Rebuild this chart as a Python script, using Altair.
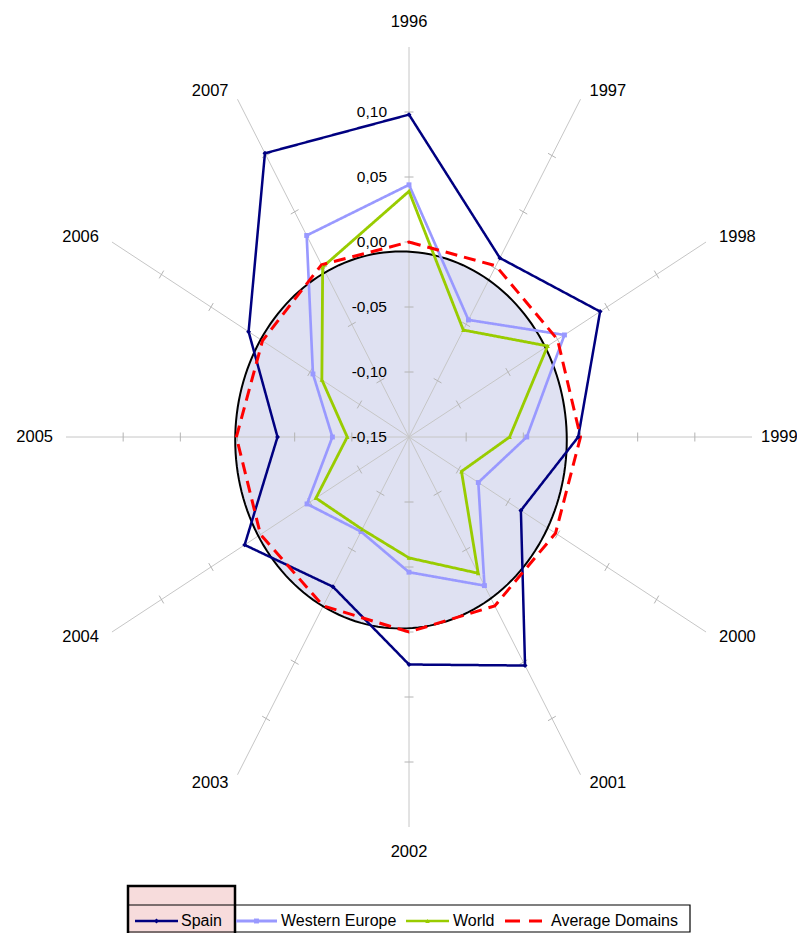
import altair as alt
import pandas as pd

# ---------------- data ----------------
years = ["1996", "1997", "1998", "1999", "2000", "2001",
         "2002", "2003", "2004", "2005", "2006", "2007"]
spain = [0.098, 0.009, 0.043, -0.002, -0.037, 0.053,
         0.025, -0.017, 0.016, -0.035, 0.012, 0.102]
western_europe = [0.044, -0.046, 0.007, -0.047, -0.080, -0.018,
                  -0.046, -0.066, -0.047, -0.083, -0.053, 0.029]
world = [0.039, -0.055, -0.010, -0.062, -0.097, -0.029,
         -0.057, -0.068, -0.056, -0.096, -0.062, 0.001]
average_domains = [0.000, 0.002, 0.000, 0.000, -0.002, 0.000,
                   0.000, 0.000, 0.000, 0.001, -0.002, 0.003]
series_names = ["Spain", "Western Europe", "World", "Average Domains"]
tick_values = [-0.15, -0.10, -0.05, 0.00, 0.05, 0.10]
tick_labels = ["-0,15", "-0,10", "-0,05", "0,00", "0,05", "0,10"]
axis_min, axis_max = -0.15, 0.15

# ---------------- layout constants ----------------
W, H = 686, 780
SPAN = axis_max - axis_min            # radius in data units
PXX = 2 * SPAN / W                     # data units per pixel (x)
PXY = 2 * SPAN / H                     # data units per pixel (y)
FONT = "Liberation Sans"
colors = ["#000080", "#9999ff", "#99cc00", "#ff0000"]
widths = [2.5, 3, 2.5, 3]
dashes = [[1, 0], [1, 0], [1, 0], [12, 7]]
shapes = ["diamond", "square", "triangle-up", None]
msizes = [24, 24, 20, 0]

rows = []
for name, vals in zip(series_names, [spain, western_europe, world, average_domains]):
    for i, (yr, v) in enumerate(zip(years, vals)):
        rows.append({"series": name, "year": yr, "idx": i, "value": v})
df = pd.DataFrame(rows)

spokes_df = pd.DataFrame({"year": years, "idx": list(range(len(years)))})
ticks_df = pd.DataFrame([{"idx": i, "level": v - axis_min}
                         for i in range(len(years)) for v in tick_values[1:]])
tlabels_df = pd.DataFrame({"v": tick_values, "label": tick_labels})
one = pd.DataFrame({"a": [0]})

xs = alt.Scale(domain=[-SPAN, SPAN], nice=False, zero=False)
ys = alt.Scale(domain=[-SPAN, SPAN], nice=False, zero=False)
X = lambda f: alt.X(f, type="quantitative", scale=xs, axis=None)
Y = lambda f: alt.Y(f, type="quantitative", scale=ys, axis=None)

# ---------------- background ellipse (shape) ----------------
ell_cx, ell_cy, ell_r = -0.007, -0.0023, 0.145
ell_fill = alt.Chart(alt.sequence(0, 181, 2, as_="t")).transform_calculate(
    ex=f"{ell_cx} + {ell_r} * cos(datum.t * PI / 180)",
    ey=f"{ell_cy} + {ell_r} * sin(datum.t * PI / 180)",
    ey2=f"{ell_cy} - {ell_r} * sin(datum.t * PI / 180)",
).mark_area(color="#dfe1f2", opacity=1).encode(
    x=X("ex"), y=Y("ey"), y2="ey2:Q")

ell_line = alt.Chart(alt.sequence(0, 360, 2, as_="t")).transform_calculate(
    ex=f"{ell_cx} + {ell_r} * cos(datum.t * PI / 180)",
    ey=f"{ell_cy} + {ell_r} * sin(datum.t * PI / 180)",
).mark_line(color="black", strokeWidth=2, interpolate="linear-closed").encode(
    x=X("ex"), y=Y("ey"), order="t:Q")

# ---------------- spokes & ticks ----------------
spokes = alt.Chart(spokes_df).transform_calculate(
    t="datum.idx * PI / 6",
).transform_calculate(
    x0="0", y0="0",
    x1=f"{SPAN} * sin(datum.t)", y1=f"{SPAN} * cos(datum.t)",
).mark_rule(color="#c6c6c6", strokeWidth=1).encode(
    x=X("x0"), y=Y("y0"), x2="x1:Q", y2="y1:Q")

L = 4.5
ticks = alt.Chart(ticks_df).transform_calculate(
    t="datum.idx * PI / 6",
).transform_calculate(
    cx="datum.level * sin(datum.t)", cy="datum.level * cos(datum.t)",
    ddx=f"cos(datum.t) * {L * PXX}", ddy=f"-sin(datum.t) * {L * PXY}",
).transform_calculate(
    x1="datum.cx + datum.ddx", y1="datum.cy + datum.ddy",
    x2="datum.cx - datum.ddx", y2="datum.cy - datum.ddy",
).mark_rule(color="#b4b4b4", strokeWidth=1).encode(
    x=X("x1"), y=Y("y1"), x2="x2:Q", y2="y2:Q")

# ---------------- category labels ----------------
lab_base = alt.Chart(spokes_df).transform_calculate(
    t="datum.idx * PI / 6",
).transform_calculate(
    ex=f"{SPAN} * sin(datum.t)", ey=f"{SPAN} * cos(datum.t)",
    gap="datum.idx == 3 ? 9 : (abs(sin(datum.t)) > 0.8 ? 13 : 9)",
)
lab_top = lab_base.transform_filter("datum.idx == 0 || datum.idx == 6").transform_calculate(
    lx="datum.ex", ly=f"datum.ey + (datum.idx == 0 ? 1 : -1) * {25 * PXY}",
).mark_text(align="center", baseline="middle", font=FONT, fontSize=16.5, color="black").encode(
    x=X("lx"), y=Y("ly"), text="year:N")
lab_right = lab_base.transform_filter("datum.idx > 0 && datum.idx < 6").transform_calculate(
    lx=f"datum.ex + datum.gap * {PXX}", ly=f"datum.ey + cos(datum.t) * {10 * PXY}",
).mark_text(align="left", baseline="middle", font=FONT, fontSize=16.5, color="black").encode(
    x=X("lx"), y=Y("ly"), text="year:N")
lab_left = lab_base.transform_filter("datum.idx > 6").transform_calculate(
    lx=f"datum.ex - datum.gap * {PXX}", ly=f"datum.ey + cos(datum.t) * {10 * PXY}",
).mark_text(align="right", baseline="middle", font=FONT, fontSize=16.5, color="black").encode(
    x=X("lx"), y=Y("ly"), text="year:N")

# ---------------- value labels ----------------
vlabels = alt.Chart(tlabels_df).transform_calculate(
    lx="0", ly=f"datum.v - ({axis_min})",
).mark_text(align="right", baseline="middle", dx=-22, font=FONT, fontSize=15.5, color="black").encode(
    x=X("lx"), y=Y("ly"), text="label:N")

# ---------------- series ----------------
series_base = alt.Chart(df).transform_calculate(
    r=f"datum.value - ({axis_min})", t="datum.idx * PI / 6",
).transform_calculate(
    px="datum.r * sin(datum.t)", py="datum.r * cos(datum.t)",
)

lines = series_base.mark_line(interpolate="linear-closed").encode(
    x=X("px"), y=Y("py"), order="idx:Q",
    color=alt.Color("series:N", scale=alt.Scale(domain=series_names, range=colors), legend=None),
    strokeDash=alt.StrokeDash("series:N", scale=alt.Scale(domain=series_names, range=dashes),
                              legend=None),
    strokeWidth=alt.StrokeWidth("series:N", scale=alt.Scale(domain=series_names, range=widths),
                                legend=None),
)

point_layers = []
for name, col, shp, sz in zip(series_names, colors, shapes, msizes):
    if shp is None:
        continue
    point_layers.append(
        series_base.transform_filter(alt.datum.series == name).mark_point(
            filled=True, color=col, shape=shp, size=sz, opacity=1).encode(
            x=X("px"), y=Y("py")))

# ---------------- legend (drawn in pixels, plot origin = top-left of view) ----------------
LEG_Y = 874
leg_slots = [  # (line start, line end, text start)
    (69, 112, 115),
    (170, 211, 215),
    (340, 383, 387),
    (439, 476, 485),
]
pink = alt.Chart(one).mark_rect(fill="#f7dcdc", stroke="black", strokeWidth=2.5).encode(
    x=alt.value(62), x2=alt.value(169), y=alt.value(839), y2=alt.value(900))
leg_box = alt.Chart(one).mark_rect(fill=None, stroke="black", strokeWidth=1.2).encode(
    x=alt.value(62), x2=alt.value(624), y=alt.value(858), y2=alt.value(885))
leg_layers = [pink, leg_box]
for name, col, w, dsh, shp, sz, (x0, x1, xt) in zip(
        series_names, colors, widths, dashes, shapes, msizes, leg_slots):
    leg_layers.append(
        alt.Chart(one).mark_rule(color=col, strokeWidth=w,
                                 strokeDash=[15, 9] if dsh[1] else [1, 0]).encode(
            x=alt.value(x0), x2=alt.value(x1), y=alt.value(LEG_Y)))
    if shp is not None:
        leg_layers.append(
            alt.Chart(one).mark_point(filled=True, color=col, shape=shp, size=sz, opacity=1).encode(
                x=alt.value((x0 + x1) / 2), y=alt.value(LEG_Y)))
    leg_layers.append(
        alt.Chart(pd.DataFrame({"name": [name]})).mark_text(
            align="left", baseline="middle", font=FONT, fontSize=16, color="black").encode(
            x=alt.value(xt), y=alt.value(LEG_Y), text="name:N"))

chart = alt.layer(
    ell_fill, spokes, ticks, ell_line, lines, *point_layers,
    vlabels, lab_top, lab_right, lab_left, *leg_layers,
).properties(
    width=W, height=H,
    autosize=alt.AutoSizeParams(type="none"),
    padding={"left": 58, "top": 39, "right": 45, "bottom": 106},
    background="white",
).configure_view(stroke=None)

chart.save("out.html", embed_options={"renderer": "svg", "actions": False})
